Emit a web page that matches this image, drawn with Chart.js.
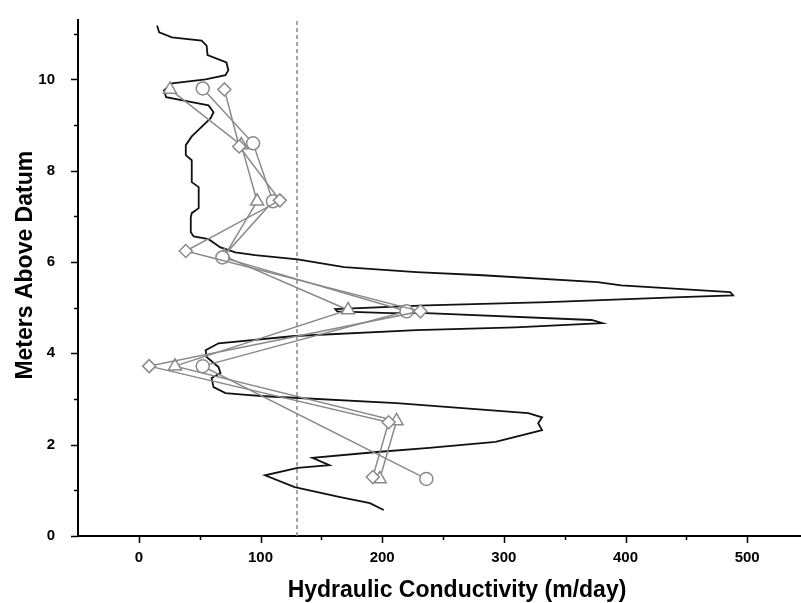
<!DOCTYPE html>
<html>
<head>
<meta charset="utf-8">
<script src="https://cdn.jsdelivr.net/npm/chart.js@4"></script>
<style>
  html, body { margin: 0; padding: 0; background: #fff; overflow: hidden; }
  #wrap { width: 801px; height: 603px; overflow: hidden; }
</style>
</head>
<body>
<div id="wrap"><canvas id="kChart" width="845" height="603"></canvas></div>
<script>
// black profile: hydraulic conductivity (m/day) vs elevation (m)
const profileK = [15.0, 16.7, 27.2, 51.6, 55.7, 56.5, 72.0, 73.6, 71.2, 54.9, 27.2, 20.7, 22.4, 43.5, 57.3, 61.4, 59.0, 51.6, 43.5, 38.6,
  38.6, 43.5, 43.5, 49.2, 49.2, 43.5, 42.7, 42.7, 45.1, 57.3, 67.1, 79.3, 95.6, 130.5, 168.8, 228.1, 282.6, 377.0, 396.5, 486.0,
  488.4, 445.3, 336.3, 236.3, 161.4, 163.1, 206.2, 236.3, 372.1, 381.0, 309.4, 228.1, 128.1, 65.5, 54.9, 55.7, 65.5, 67.1, 59.8, 61.4,
  71.2, 88.2, 103.7, 211.9, 320.0, 331.4, 328.2, 331.4, 293.2, 238.7, 195.6, 142.7, 156.6, 130.5, 103.7, 128.1, 165.5, 189.9, 201.3];
const profileZ = [11.18, 11.03, 10.92, 10.85, 10.74, 10.53, 10.37, 10.20, 10.09, 10.00, 9.91, 9.76, 9.61, 9.50, 9.43, 9.28, 9.15, 8.96, 8.75, 8.56,
  8.34, 8.23, 7.75, 7.64, 7.18, 7.07, 6.98, 6.65, 6.56, 6.50, 6.32, 6.21, 6.15, 6.06, 5.89, 5.78, 5.71, 5.56, 5.49, 5.34,
  5.27, 5.23, 5.12, 5.05, 4.97, 4.92, 4.88, 4.88, 4.73, 4.66, 4.57, 4.51, 4.38, 4.22, 4.07, 3.92, 3.70, 3.57, 3.46, 3.26,
  3.13, 3.09, 3.06, 2.91, 2.69, 2.60, 2.47, 2.32, 2.06, 1.93, 1.84, 1.71, 1.55, 1.49, 1.33, 1.07, 0.85, 0.72, 0.57];

// test results
const triangleK = [25.6, 84.2, 97.2, 70.3, 172.0, 29.7, 211.8, 198.0];
const triangleZ = [9.78, 8.56, 7.33, 6.13, 4.95, 3.72, 2.52, 1.25];
const circleK = [52.5, 93.9, 110.2, 68.7, 220.0, 52.5, 236.3];
const circleZ = [9.80, 8.60, 7.33, 6.10, 4.92, 3.72, 1.25];
const diamondK = [70.3, 82.5, 115.9, 38.6, 231.4, 8.5, 205.3, 192.3];
const diamondZ = [9.78, 8.53, 7.35, 6.24, 4.92, 3.72, 2.49, 1.29];

const refK = 130;

const xTicks = [0, 100, 200, 300, 400, 500];
const xMinor = [50, 150, 250, 350, 450, 550];
const yTicks = [0, 2, 4, 6, 8, 10];
const yMinor = [1, 3, 5, 7, 9, 11];

function pts(xs, ys) {
  return xs.map((x, i) => ({ x: x, y: ys[i] }));
}

const grey = '#8a8a8a';
const fontFam = "'Liberation Sans', Arial, sans-serif";

function markerSet(data, style, r) {
  return {
    data: data,
    showLine: true,
    borderColor: grey,
    borderWidth: 1.5,
    pointStyle: style,
    pointRadius: r,
    pointBorderColor: grey,
    pointBackgroundColor: '#fff',
    pointBorderWidth: 1.5
  };
}

function noPad(scale) {
  scale.paddingTop = 0;
  scale.paddingBottom = 0;
  scale.paddingLeft = 0;
  scale.paddingRight = 0;
}

const tickMarks = {
  id: 'tickMarks',
  afterDraw(chart) {
    const ctx = chart.ctx;
    const xs = chart.scales.x, ys = chart.scales.y;
    ctx.save();
    ctx.strokeStyle = '#000';
    ctx.lineWidth = 1.5;
    ctx.beginPath();
    xTicks.forEach(v => { const p = Math.round(xs.getPixelForValue(v)) + 0.5; ctx.moveTo(p, xs.top); ctx.lineTo(p, xs.top + 7); });
    xMinor.forEach(v => { const p = Math.round(xs.getPixelForValue(v)) + 0.5; ctx.moveTo(p, xs.top); ctx.lineTo(p, xs.top + 4); });
    yTicks.forEach(v => { const p = Math.round(ys.getPixelForValue(v)) + 0.5; ctx.moveTo(ys.right, p); ctx.lineTo(ys.right - 7, p); });
    yMinor.forEach(v => { const p = Math.round(ys.getPixelForValue(v)) + 0.5; ctx.moveTo(ys.right, p); ctx.lineTo(ys.right - 4, p); });
    ctx.stroke();
    ctx.restore();
  }
};

const ctx = document.getElementById('kChart').getContext('2d');

new Chart(ctx, {
  type: 'scatter',
  data: {
    datasets: [
      markerSet(pts(diamondK, diamondZ), 'rectRot', 6.5),
      markerSet(pts(circleK, circleZ), 'circle', 6.5),
      markerSet(pts(triangleK, triangleZ), 'triangle', 7.5),
      {
        data: pts(profileK, profileZ),
        showLine: true,
        borderColor: '#111',
        borderWidth: 1.8,
        pointRadius: 0
      },
      {
        data: [{ x: refK, y: 0 }, { x: refK, y: 11.3 }],
        showLine: true,
        borderColor: grey,
        borderWidth: 1.5,
        borderDash: [4, 3],
        pointRadius: 0
      }
    ]
  },
  options: {
    responsive: false,
    animation: false,
    layout: { padding: { top: 20, right: 1, left: 0, bottom: 0 } },
    plugins: {
      legend: { display: false },
      tooltip: { enabled: false }
    },
    scales: {
      x: {
        type: 'linear',
        min: -50,
        max: 573,
        grid: { display: false },
        border: { display: true, color: '#000', width: 2 },
        afterBuildTicks: (scale) => { scale.ticks = xTicks.map(v => ({ value: v })); },
        afterFit: (scale) => { scale.height = 67; noPad(scale); },
        ticks: {
          padding: 5,
          color: '#000',
          font: { family: fontFam, size: 15, weight: 'bold' }
        },
        title: {
          display: true,
          text: 'Hydraulic Conductivity (m/day)',
          color: '#000',
          padding: { top: 0, bottom: -1 },
          font: { family: fontFam, size: 23, weight: 'bold' }
        }
      },
      y: {
        type: 'linear',
        min: 0,
        max: 11.3,
        grid: { display: false },
        border: { display: true, color: '#000', width: 2 },
        afterBuildTicks: (scale) => { scale.ticks = yTicks.map(v => ({ value: v })); },
        afterFit: (scale) => { scale.width = 78; noPad(scale); },
        ticks: {
          padding: 15,
          color: '#000',
          font: { family: fontFam, size: 15, weight: 'bold' }
        },
        title: {
          display: true,
          text: '    Meters Above Datum',
          color: '#000',
          padding: { top: 12, bottom: 0 },
          font: { family: fontFam, size: 23, weight: 'bold' }
        }
      }
    }
  },
  plugins: [tickMarks]
});
</script>
</body>
</html>
